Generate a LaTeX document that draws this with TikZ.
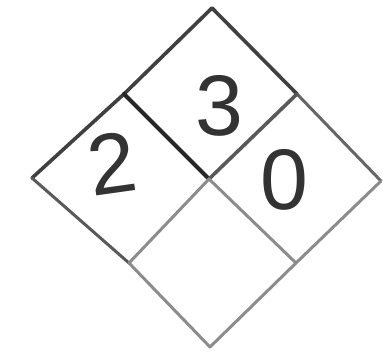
\documentclass[tikz,border=0pt]{standalone}
\usepackage{fontspec}
\setmainfont{Liberation Sans}
\tikzset{
  darkline/.style={draw=black!75, line width=3.6pt, line cap=round, line join=round},
  lightline/.style={draw=black!45, line width=3pt, line cap=round, line join=round},
  digit/.style={text=black!80, font=\fontsize{86}{86}\selectfont, inner sep=0pt}
}
\begin{document}
\begin{tikzpicture}[x=1pt,y=-1pt]
  \useasboundingbox (0,0) rectangle (383,357);
  % vertices
  \coordinate (T) at (212,8);
  \coordinate (L) at (32,178);
  \coordinate (R) at (381,181);
  \coordinate (B) at (210,347);
  \coordinate (C) at (209,179);
  \coordinate (UL) at (124,94);
  \coordinate (UR) at (297,94);
  \coordinate (LL) at (129,263);
  \coordinate (LR) at (296,263);
  % outline
  \draw[darkline] (L) -- (UL) -- (T) -- (UR);
  \draw[lightline, draw=black!60] (UR) -- (R);
  \draw[lightline] (R) -- (LR) -- (B) -- (LL);
  \draw[lightline, draw=black!65] (LL) -- (L);
  % dividers
  \draw[darkline, draw=black!85, line width=4pt] (UL) -- (C);
  \draw[darkline, draw=black!65] (UR) -- (C);
  \draw[lightline] (C) -- (LL);
  \draw[lightline] (C) -- (LR);
  % numbers
  \node[digit, rotate=8] (health) at (112,163) {2};
  \node[digit] (fire) at (219,106) {3};
  \node[digit] (react) at (284,180) {0};
\end{tikzpicture}
\end{document}
